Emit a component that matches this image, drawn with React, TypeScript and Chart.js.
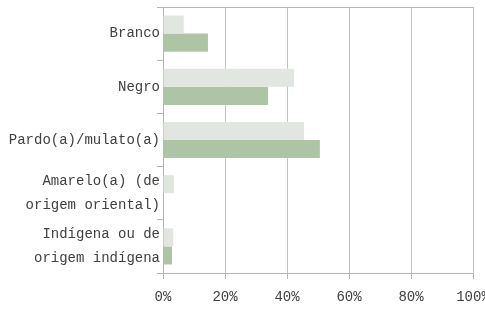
import React, { useEffect, useRef } from "react";
import { Chart, registerables } from "chart.js";

Chart.register(...registerables);

const categories: (string | string[])[] = [
  "Branco",
  "Negro",
  "Pardo(a)/mulato(a)",
  ["Amarelo(a) (de", "origem oriental)"],
  ["Indígena ou de", "origem indígena"],
];
const seriesLight = [6.7, 42.3, 45.5, 3.5, 3.3];
const seriesGreen = [14.5, 33.9, 50.6, 0, 2.9];
const xTicks = [0, 20, 40, 60, 80, 100];

const FONT = "'Liberation Mono', monospace";
const TEXT = "#404040";
const GRID = "#c4c4c4";
const AXIS = "#b4b4b4";

export default function App() {
  const ref = useRef<HTMLCanvasElement | null>(null);
  useEffect(() => {
    if (!ref.current) return;
    const chart = new Chart(ref.current, {
      type: "bar",
      data: {
        labels: categories,
        datasets: [
          { label: "Série 1", data: seriesLight, backgroundColor: "#e1e6e1", barPercentage: 1, categoryPercentage: 0.68 },
          { label: "Série 2", data: seriesGreen, backgroundColor: "#adc5a5", barPercentage: 1, categoryPercentage: 0.68 },
        ],
      },
      options: {
        indexAxis: "y",
        animation: false,
        responsive: false,
        layout: { padding: { top: 7, right: 12, left: 0, bottom: 0 } },
        plugins: { legend: { display: false }, tooltip: { enabled: false } },
        scales: {
          x: {
            type: "linear",
            min: 0,
            max: 100,
            afterBuildTicks: (s: any) => {
              s.ticks = xTicks.map((v) => ({ value: v }));
            },
            ticks: {
              callback: (v: any) => v + "%",
              color: TEXT,
              font: { family: FONT, size: 14 },
              padding: 10,
              maxRotation: 0,
            },
            grid: { color: GRID, tickLength: 6, tickColor: AXIS },
            border: { color: AXIS },
            afterFit: (s: any) => {
              s.height = 38;
              s.paddingLeft = 0;
              s.paddingRight = 0;
            },
          },
          x2: {
            type: "linear",
            position: "top",
            min: 0,
            max: 100,
            ticks: { display: false },
            grid: { display: false, drawTicks: false },
            border: { display: true, color: AXIS },
            afterFit: (s: any) => {
              s.height = 0;
              s.paddingLeft = 0;
              s.paddingRight = 0;
            },
          },
          y: {
            ticks: {
              color: TEXT,
              font: { family: FONT, size: 14, lineHeight: 1.75 },
              padding: -3,
              autoSkip: false,
            },
            grid: { drawOnChartArea: false, offset: true, tickLength: 6, color: AXIS },
            border: { color: AXIS },
            afterFit: (s: any) => {
              s.width = 163;
              s.paddingTop = 0;
              s.paddingBottom = 0;
            },
          },
        },
      },
    });
    return () => chart.destroy();
  }, []);
  return (
    <div style={{ position: "absolute", left: 0, top: 0, width: 485, height: 311, background: "#fff" }}>
      <canvas ref={ref} width={485} height={311} />
    </div>
  );
}
